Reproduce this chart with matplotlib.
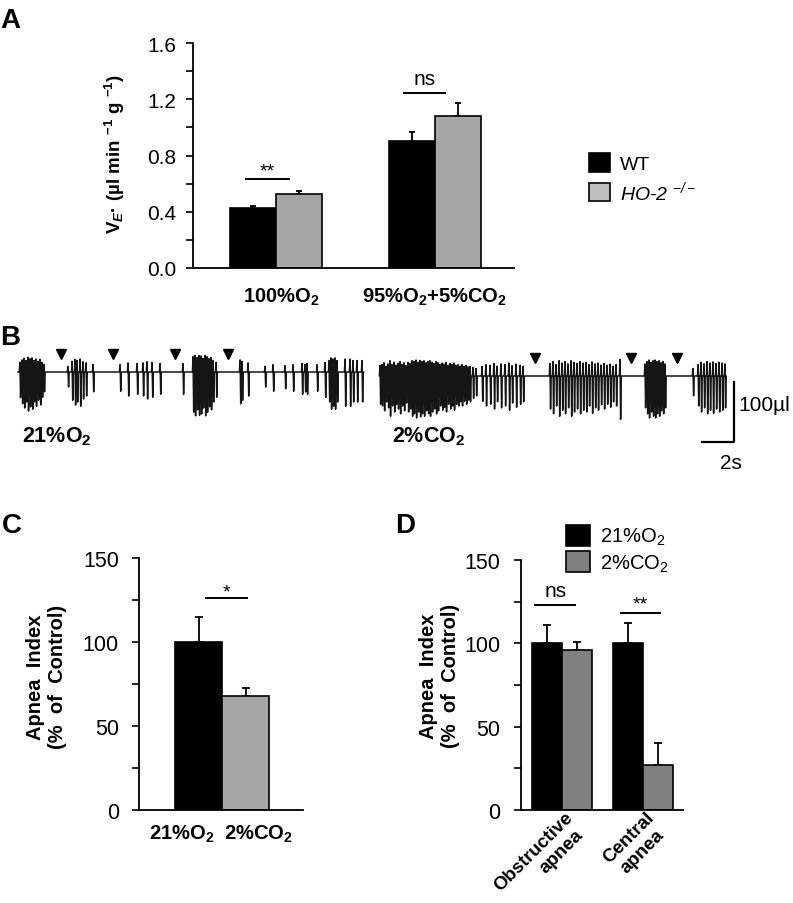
"""Figure: ventilation, breathing traces and apnea index"""

import matplotlib
matplotlib.use('Agg')
import matplotlib.pyplot as plt
import matplotlib.transforms as mtransforms
from matplotlib.patches import Patch
from matplotlib.ticker import MultipleLocator

plt.rcParams['font.family'] = ['Liberation Sans', 'DejaVu Sans']
plt.rcParams['mathtext.fontset'] = 'custom'
plt.rcParams['mathtext.rm'] = 'Liberation Sans'
plt.rcParams['mathtext.bf'] = 'Liberation Sans:bold'
plt.rcParams['mathtext.it'] = 'Liberation Sans:bold:italic'
plt.rcParams['mathtext.sf'] = 'Liberation Sans:italic'

# ---- panel A data ----
a_groups = ['100%O$_\\mathbf{2}$', '95%O$_\\mathbf{2}$+5%CO$_\\mathbf{2}$']
a_wt = [0.43, 0.905]
a_wt_err = [0.012, 0.06]
a_ho = [0.526, 1.081]
a_ho_err = [0.02, 0.095]

# ---- panel B data (t in s, expiratory depth in ul) ----
left_t = [0.12, 0.25, 0.38, 0.5, 0.62, 0.75, 0.88, 1.0, 1.12, 1.25, 1.38, 1.5, 1.62,
          3.12, 3.38, 3.56, 3.69, 3.88, 4.06, 4.25, 4.69,
          6.38, 6.88, 7.44, 7.81, 8.06, 8.38, 8.88, 10.31,
          10.94, 11.06, 11.19, 11.31, 11.44, 11.56, 11.69, 11.81, 11.94, 12.06, 12.19, 12.38,
          13.88, 14.0, 14.38, 15.44, 15.94, 16.69, 17.19, 17.75, 17.94, 18.06, 18.69, 19.19,
          19.44, 19.56, 19.69, 19.81, 19.94,
          20.44, 20.75, 20.94, 21.19, 21.5]
left_d = [43, 53, 60, 50, 65, 58, 62, 50, 57, 47, 55, 42, 33,
          25, 47, 55, 50, 57, 45, 40, 33,
          32, 40, 37, 40, 45, 42, 37, 37,
          67, 73, 63, 72, 70, 60, 73, 67, 58, 63, 50, 42,
          53, 47, 40, 25, 32, 28, 32, 37, 33, 37, 32, 42,
          50, 62, 57, 62, 50,
          57, 57, 50, 50, 50]
left_apnea = [2.69, 5.94, 9.81, 13.12]

right_t = [0.0, 0.12, 0.25, 0.38, 0.5, 0.62, 0.75, 0.88, 1.0, 1.12, 1.25, 1.38, 1.5, 1.62,
           1.75, 1.88, 2.0, 2.12, 2.25, 2.38, 2.5, 2.62, 2.75, 2.88, 3.0, 3.12, 3.25, 3.38,
           3.5, 3.62, 3.75, 3.88, 4.0, 4.12, 4.25, 4.38, 4.5, 4.62, 4.75, 4.88, 5.0, 5.12,
           5.25, 5.38, 5.5, 5.62, 5.81, 6.0,
           6.38, 6.62, 6.88, 7.12, 7.31, 7.56, 7.81, 8.06, 8.25, 8.5, 8.75, 8.94,
           10.62, 10.81, 11.0, 11.19, 11.38, 11.56, 11.75, 11.94, 12.12, 12.31, 12.5, 12.69,
           12.88, 13.06, 13.25, 13.44, 13.62, 13.81, 14.0, 14.19, 14.38, 14.56, 14.75, 15.0,
           16.56, 16.69, 16.81, 16.94, 17.06, 17.19, 17.31, 17.44, 17.56, 17.69, 17.81,
           19.56,
           19.88, 20.06, 20.25, 20.44, 20.62, 20.81, 21.0, 21.19, 21.38, 21.56]
right_d = [47, 50, 58, 43, 53, 67, 50, 60, 47, 55, 63, 50, 58, 45,
           60, 55, 67, 63, 70, 60, 68, 63, 67, 58, 63, 67, 60, 55,
           63, 58, 50, 57, 52, 60, 47, 55, 50, 57, 47, 50, 43, 50,
           42, 47, 40, 43, 37, 33,
           42, 50, 47, 55, 43, 53, 50, 57, 45, 52, 47, 43,
           55, 63, 50, 67, 57, 63, 53, 67, 60, 55, 63, 57,
           60, 50, 62, 53, 57, 48, 55, 47, 52, 43, 50, 72,
           53, 63, 70, 60, 67, 70, 63, 67, 58, 63, 53,
           33,
           50, 60, 53, 63, 57, 62, 55, 60, 57, 53]
right_apnea = [9.69, 15.69, 18.56]

# ---- panel C data ----
c_labels = ['21%O$_\\mathbf{2}$', '2%CO$_\\mathbf{2}$']
c_vals = [100, 68]
c_err = [15, 4.5]

# ---- panel D data ----
d_groups = [['Obstructive', 'apnea'], ['Central', 'apnea']]
d_o2 = [100, 100]
d_o2_err = [11, 12]
d_co2 = [96.2, 27.2]
d_co2_err = [4.5, 13]

W, H = 793, 904
fig = plt.figure(figsize=(W / 100, H / 100), dpi=100)


def px_axes(left, right, top, bottom):
    return fig.add_axes([left / W, 1 - bottom / H, (right - left) / W, (bottom - top) / H])


def offset(dx, dy):
    # shift in pixels, dy positive = down
    return mtransforms.ScaledTranslation(dx / 100, -dy / 100, fig.dpi_scale_trans)


def style_axes(ax, pad, size):
    for s in ['top', 'right']:
        ax.spines[s].set_visible(False)
    for s in ['left', 'bottom']:
        ax.spines[s].set_linewidth(1.3)
    ax.tick_params(axis='y', which='both', direction='out', length=5, width=1.2,
                   pad=pad, labelsize=size)
    ax.tick_params(axis='x', length=0)


def shift_labels(ax, offsets):
    for lab, dx in zip(ax.get_xticklabels(), offsets):
        lab.set_transform(lab.get_transform() + offset(dx, 0))


def sig(ax, x0, x1, y, text, size, gap):
    ax.plot([x0, x1], [y, y], color='black', lw=1.4, clip_on=False)
    ax.text((x0 + x1) / 2, y + gap, text, ha='center', va='bottom', fontsize=size)


ebar = dict(fmt='none', ecolor='black', elinewidth=1.3, capthick=1.3)

# ---------------- A ----------------
ax = px_axes(193, 514, 44, 269)
x = [0, 1]
bw = 0.29
xw = [i - bw / 2 for i in x]
xh = [i + bw / 2 for i in x]
ax.bar(xw, a_wt, bw, color='black', edgecolor='black', lw=1.2, zorder=2)
ax.bar(xh, a_ho, bw, color='#a6a6a6', edgecolor='black', lw=1.2, zorder=2)
ax.errorbar(xw, a_wt, yerr=[[0, 0], a_wt_err], capsize=2.5, zorder=1, **ebar)
ax.errorbar(xh, a_ho, yerr=[[0, 0], a_ho_err], capsize=2.5, zorder=1, **ebar)
ax.set_xlim(-0.522, 1.497)
ax.set_ylim(0, 1.6)
ax.yaxis.set_major_locator(MultipleLocator(0.4))
ax.yaxis.set_minor_locator(MultipleLocator(0.2))
ax.set_yticklabels([f'{v:.1f}' for v in ax.get_yticks()])
ax.set_ylim(0, 1.6)
style_axes(ax, 7, 15)
ax.set_xticks(x, a_groups, fontsize=14.5, fontweight='bold')
ax.tick_params(axis='x', pad=13)
shift_labels(ax, [5, 0])
ax.text(-0.243, 0.51, r'V$_{\mathit{E}}$· (µl min $^{\mathbf{-1}}$ g $^{\mathbf{-1}}$)',
        transform=ax.transAxes, rotation=90, ha='center', va='center',
        fontsize=13.5, fontweight='bold')
sig(ax, -0.19, 0.08, 0.633, '**', 14, 0.0)
sig(ax, 0.805, 1.063, 1.244, 'ns', 15, 0.035)
leg = fig.legend(handles=[Patch(facecolor='black', edgecolor='black', lw=1.2),
                          Patch(facecolor='#bfbfbf', edgecolor='black', lw=1.2)],
                 labels=['WT', r'HO-2 $^{\mathsf{-/-}}$'],
                 loc='upper left', bbox_to_anchor=(589 / W, 1 - 154 / H), frameon=False,
                 fontsize=14, handlelength=1.1, handleheight=1.1, handletextpad=0.5,
                 labelspacing=0.3, borderaxespad=0, borderpad=0)
leg.get_texts()[1].set_style('italic')

# ---------------- B ----------------
axb = px_axes(0, W, 340, 480)
axb.axis('off')
PXS, PXU = 16.0, 0.6
axb.set_xlim(-18 / PXS, (W - 18) / PXS)
axb.set_ylim(-(480 - 373) / PXU, (373 - 340) / PXU)
RIGHT_SHIFT = (380 - 18) / PXS
RIGHT_BASE = -4 / PXU


def trace(times, depths, shift, base, end):
    xs, ys = [shift], [base]
    for t, d in zip(times, depths):
        xs += [shift + t - 0.04, shift + t, shift + t + 0.04, shift + t + 0.08]
        ys += [base, base + 0.38 * d, base - d, base]
    xs.append(shift + end)
    ys.append(base)
    return xs, ys


for tt, dd, sh, bs in [(left_t, left_d, 0, 0), (right_t, right_d, RIGHT_SHIFT, RIGHT_BASE)]:
    xs, ys = trace(tt, dd, sh, bs, 21.6)
    axb.plot(xs, ys, color='#151515', lw=1.1)
axb.plot(left_apnea, [30] * len(left_apnea), 'kv', ms=6.5)
axb.plot([RIGHT_SHIFT + t for t in right_apnea], [30 + RIGHT_BASE] * len(right_apnea),
         'kv', ms=6.5)
sx, sy = (734 - 18) / PXS, (373 - 443) / PXU
axb.plot([sx - 2, sx, sx], [sy, sy, sy + 100], color='black', lw=1.6)
axb.text(sx + 0.3, sy + 62, '100µl', fontsize=15, ha='left', va='center')
axb.text(sx - 0.2, sy - 34, '2s', fontsize=15, ha='center', va='center')
axb.text(0.25, -107, '21%O$_\\mathbf{2}$', fontsize=15.5, fontweight='bold', va='center')
axb.text(RIGHT_SHIFT + 0.75, -107, '2%CO$_\\mathbf{2}$', fontsize=15.5, fontweight='bold',
         va='center')

# ---------------- C ----------------
ax = px_axes(139, 303, 559, 811)
ax.bar([0], c_vals[:1], 1.0, color='black', edgecolor='black', lw=1.2, zorder=2)
ax.bar([1], c_vals[1:], 1.0, color='#a6a6a6', edgecolor='black', lw=1.2, zorder=2)
ax.errorbar([0, 1], c_vals, yerr=[[0, 0], c_err], capsize=3, zorder=1, **ebar)
ax.set_xlim(-1.27, 2.22)
ax.set_ylim(0, 150)
ax.yaxis.set_major_locator(MultipleLocator(50))
ax.yaxis.set_minor_locator(MultipleLocator(25))
style_axes(ax, 9.5, 15.5)
ax.set_xticks([0, 1], c_labels, fontsize=14.5, fontweight='bold')
ax.tick_params(axis='x', pad=9)
shift_labels(ax, [-17, 13])
ax.text(-0.561, 0.532, 'Apnea  Index\n(%  of  Control)', transform=ax.transAxes,
        rotation=90, ha='center', va='center', fontsize=14.5, fontweight='bold',
        linespacing=1.2)
sig(ax, 0.15, 1.02, 126, '*', 14, -1.5)

# ---------------- D ----------------
ax = px_axes(520.7, 683, 561, 811)
bw = 0.37
xo = [i - bw / 2 for i in x]
xc = [i + bw / 2 for i in x]
ax.bar(xo, d_o2, bw, color='black', edgecolor='black', lw=1.2, zorder=2)
ax.bar(xc, d_co2, bw, color='#808080', edgecolor='black', lw=1.2, zorder=2)
ax.errorbar(xo, d_o2, yerr=[[0, 0], d_o2_err], capsize=3, zorder=1, **ebar)
ax.errorbar(xc, d_co2, yerr=[[0, 0], d_co2_err], capsize=3, zorder=1, **ebar)
ax.set_xlim(-0.51, 1.49)
ax.set_ylim(0, 150)
ax.yaxis.set_major_locator(MultipleLocator(50))
ax.yaxis.set_minor_locator(MultipleLocator(25))
style_axes(ax, 9.5, 15.5)
ax.set_xticks(x, ['', ''])
# rotated two-line category labels, one text per line
for xi, lines in zip(x, d_groups):
    for k, line in enumerate(lines):
        ax.text(xi, 0, line, transform=ax.get_xaxis_transform() + offset(2 + 10.5 * k, -2 + 17.5 * k),
                rotation=45, rotation_mode='anchor', ha='right', va='top',
                fontsize=13.5, fontweight='bold')
ax.text(-0.498, 0.54, 'Apnea  Index\n(%  of  Control)', transform=ax.transAxes,
        rotation=90, ha='center', va='center', fontsize=14.5, fontweight='bold',
        linespacing=1.2)
sig(ax, -0.33, 0.16, 123.2, 'ns', 15, 3)
sig(ax, 0.72, 1.21, 118.4, '**', 14, 0)
fig.legend(handles=[Patch(facecolor='black', edgecolor='black', lw=1.2),
                    Patch(facecolor='#808080', edgecolor='black', lw=1.2)],
           labels=['21%O$_2$', '2%CO$_2$'],
           loc='upper left', bbox_to_anchor=(566 / W, 1 - 526 / H), frameon=False,
           fontsize=14.5, handlelength=1.2, handleheight=1.2, handletextpad=0.5,
           labelspacing=0.2, borderaxespad=0, borderpad=0)

# panel letters
for letter, lx, ly in [('A', 0, 28), ('B', 0, 345), ('C', 2, 533), ('D', 395, 533)]:
    fig.text(lx / W, 1 - ly / H, letter, fontsize=20, fontweight='bold', va='baseline')

fig.savefig('out.png', dpi=100)
